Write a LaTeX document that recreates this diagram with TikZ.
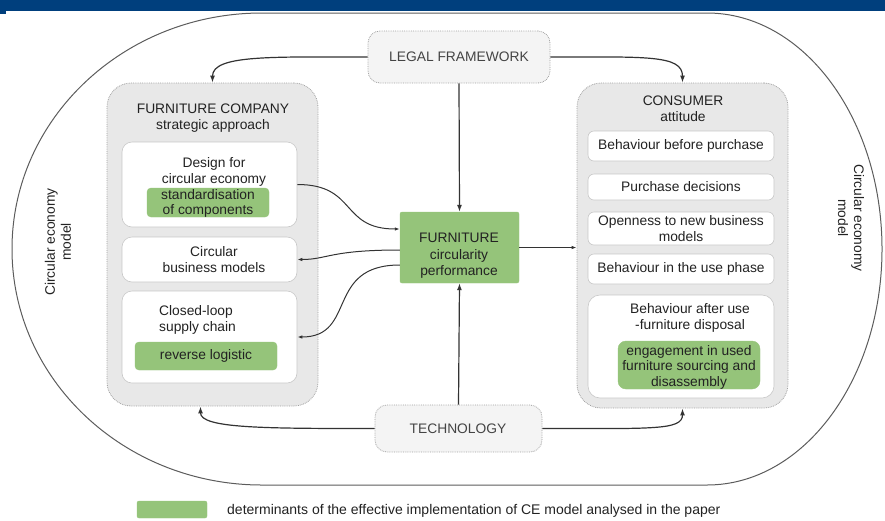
\documentclass[tikz,border=0pt]{standalone}
\usepackage{fontspec}
\setmainfont{Liberation Sans}
\usetikzlibrary{arrows.meta,fit}
\definecolor{banner}{HTML}{003F7D}
\definecolor{grn}{HTML}{95C47A}
\definecolor{contfill}{HTML}{E8E8E8}
\definecolor{extfill}{HTML}{F4F4F4}
\definecolor{bord}{HTML}{A0A0A0}
\definecolor{inbord}{HTML}{C8C8C8}
\definecolor{txt}{HTML}{222222}
\definecolor{ttxt}{HTML}{444444}
\definecolor{ln}{HTML}{333333}
\tikzset{
 cont/.style={draw=bord, densely dotted, fill=contfill, rounded corners=24pt, inner sep=0pt, line width=0.8pt},
 ext/.style={draw=bord, densely dotted, fill=extfill, rounded corners=12pt, inner sep=0pt, line width=0.8pt},
 inbox/.style={draw=inbord, fill=white, rounded corners=10pt, inner sep=0pt, line width=0.6pt},
 gbox/.style={fill=grn, draw=grn, rounded corners=4pt, inner sep=0pt},
 lbl/.style={text=txt, align=center, inner sep=0pt},
 tlbl/.style={text=ttxt, align=center, inner sep=0pt},
 arr/.style={draw=ln, line width=1.2pt, -{Latex[length=7pt,width=5pt]}},
 sarr/.style={draw=ln, line width=1pt, -{Latex[length=5pt,width=3.5pt]}},
}
\begin{document}
\begin{tikzpicture}[x=1pt,y=-1pt, font=\fontsize{13.8}{16}\selectfont]
\useasboundingbox (0,0) rectangle (885,520);
% banner
\fill[banner] (0,0) rectangle (885,11);
\fill[banner] (0,11) rectangle (6,14);
% outer loop
\draw[draw=ln!80, line width=1pt] (262,13) -- (707,13)
  arc[start angle=90, end angle=-90, x radius=175pt, y radius=236pt]
  -- (262,485)
  arc[start angle=270, end angle=90, x radius=250pt, y radius=236pt] -- cycle;
\node[lbl, rotate=90] (cemL) at (58,242) {Circular economy\\model};
\node[lbl, rotate=-90] (cemR) at (851,218) {Circular economy\\model};

% external boxes
\node[ext, fit={(368,31) (550,83)}] (legal) {};
\node[tlbl] (legalt) at (459,57) {LEGAL FRAMEWORK};
\node[ext, fit={(375,405) (542,452)}] (tech) {};
\node[tlbl] (techt) at (458,429) {TECHNOLOGY};

% company
\node[cont, fit={(107,83) (318,406)}] (comp) {};
\node[lbl] (compt1) at (213,109) {FURNITURE COMPANY};
\node[lbl] (compt2) at (213,126) {strategic approach};
\node[inbox, fit={(122,142) (297,227)}] (d1) {};
\node[lbl] (d1t) at (214,172) {Design for\\circular economy};
\node[gbox, fit={(147,188) (269,217)}] (g1) {};
\node[lbl, font=\fontsize{13.8}{15}\selectfont] (g1t) at (208,203) {standardisation\\of components};
\node[inbox, fit={(122,237) (297,282)}] (d2) {};
\node[lbl] (d2t) at (214,260) {Circular\\business models};
\node[inbox, fit={(122,291) (297,383)}] (d3) {};
\node[lbl, align=left, anchor=west] (d3t) at (159,320) {Closed-loop\\supply chain};
\node[gbox, fit={(135,342) (277,370)}] (g3) {};
\node[lbl] (g3t) at (206,356) {reverse logistic};

% center
\node[gbox, rounded corners=2pt, fit={(400,212) (519,283)}] (furn) {};
\node[lbl, font=\fontsize{13.8}{16.5}\selectfont] (furnt) at (459,256) {FURNITURE\\circularity\\performance};

% consumer
\node[cont, fit={(577,83) (788,408)}] (cons) {};
\node[lbl] (const1) at (683,101) {CONSUMER};
\node[lbl] (const2) at (683,117) {attitude};
\node[inbox, rounded corners=6pt, fit={(588,131) (774,161)}] (c1) {};
\node[lbl] (c1t) at (681,146) {Behaviour before purchase};
\node[inbox, rounded corners=6pt, fit={(588,174) (774,200)}] (c2) {};
\node[lbl] (c2t) at (681,187) {Purchase decisions};
\node[inbox, rounded corners=6pt, fit={(588,212) (774,245)}] (c3) {};
\node[lbl] (c3t) at (681,228.5) {Openness to new business\\models};
\node[inbox, rounded corners=6pt, fit={(588,254) (774,284)}] (c4) {};
\node[lbl] (c4t) at (681,269) {Behaviour in the use phase};
\node[inbox, rounded corners=12pt, fit={(588,295) (774,398)}] (c5) {};
\node[lbl] (c5t) at (690,317.5) {Behaviour after use\\-furniture disposal};
\node[gbox, rounded corners=8pt, fit={(618,341) (760,389)}] (g5) {};
\node[lbl, font=\fontsize{13.8}{15.5}\selectfont] (g5t) at (689,367) {engagement in used\\furniture sourcing and\\disassembly};

% connectors
\draw[arr] (legal.south) -- (furn.north);
\draw[arr] (tech.north) -- (furn.south);
\draw[arr] (legal.west) .. controls +(-95,0) and +(0,-28) .. (comp.north);
\draw[arr] (legal.east) .. controls +(95,0) and +(0,-28) .. (cons.north);
\draw[arr] (tech.west) .. controls +(-110,0) and +(0,22) .. ([xshift=-12pt]comp.south);
\draw[arr] (tech.east) .. controls +(110,0) and +(0,22) .. (cons.south);
\draw[sarr] (d1.east) .. controls +(60,0) and +(-60,0) .. ([yshift=18.5pt]furn.west);
\draw[sarr] ([yshift=-2.5pt]furn.west) .. controls +(-70,0) and +(30,0) .. (d2.east);
\draw[sarr] ([yshift=-17.5pt]furn.west) .. controls +(-75,0) and +(60,0) .. (d3.east);
\draw[sarr] (furn.east) -- (furn.east -| cons.west);

% legend
\node[gbox, rounded corners=2pt, fit={(137,501) (207,518)}] (lg) {};
\node[lbl, anchor=west, font=\fontsize{14}{16}\selectfont] (lgt) at (227,511) {determinants of the effective implementation of CE model analysed in the paper};
\end{tikzpicture}
\end{document}
